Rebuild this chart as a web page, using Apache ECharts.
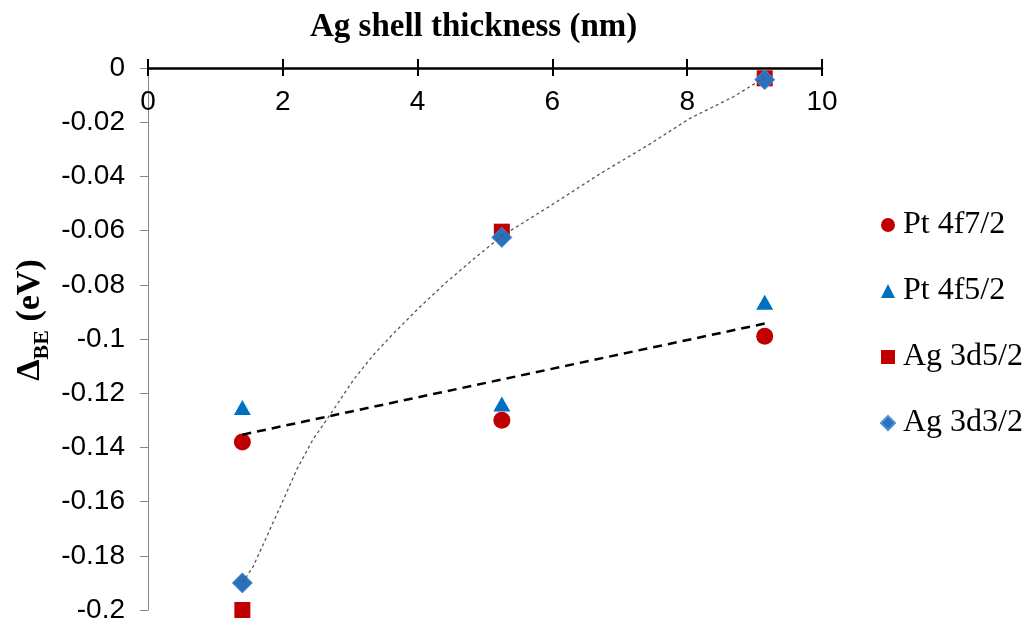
<!DOCTYPE html>
<html>
<head>
<meta charset="utf-8">
<script src="https://cdn.jsdelivr.net/npm/echarts@6/dist/echarts.min.js"></script>
<style>
html,body{margin:0;padding:0;background:#fff;}
#main{width:1030px;height:632px;}
</style>
</head>
<body>
<div id="main"></div>
<script>
// Data
const seriesNames = ['Pt 4f7/2', 'Pt 4f5/2', 'Ag 3d5/2', 'Ag 3d3/2'];
const thickness = [1.4, 5.25, 9.15];
const pt4f72 = [-0.138, -0.130, -0.099];
const pt4f52 = [-0.1253, -0.124, -0.0864];
const ag3d52 = [-0.2, -0.0604, -0.0038];
const ag3d32 = [-0.190, -0.0625, -0.0043];
// Linear trendline (dashed), endpoints
const linearTrend = [[1.4, -0.1353], [9.15, -0.0943]];
// Logarithmic trendline (dotted)
const logTrend = [
  [1.4, -0.190], [1.56, -0.184], [1.76, -0.173], [1.96, -0.162], [2.21, -0.148],
  [2.45, -0.137], [2.7, -0.128], [3.05, -0.115], [3.34, -0.106], [3.64, -0.098],
  [4.04, -0.088], [4.43, -0.079], [4.83, -0.0705], [5.25, -0.062], [5.96, -0.051],
  [6.71, -0.039], [7.45, -0.028], [8.04, -0.0186], [8.68, -0.0107], [9.15, -0.0035]
];
const xTicks = {min: 0, max: 10, interval: 2};
const yTicks = {min: -0.2, max: 0, interval: 0.02};

const red = '#C00000';
const blue = '#0070C0';
const diamondBlue = '#2A70BE';

function pairs(xs, ys) { return xs.map((x, i) => [x, ys[i]]); }

const chart = echarts.init(document.getElementById('main'), null, {renderer: 'canvas'});
const sansFont = '"Liberation Sans", Arial, sans-serif';
const serifFont = '"Liberation Serif", "Times New Roman", serif';

chart.setOption({
  backgroundColor: '#ffffff',
  animation: false,
  grid: {left: 148, right: 208, top: 68, bottom: 22, containLabel: false},
  legend: {
    orient: 'vertical',
    left: 875,
    top: 202,
    itemWidth: 14,
    itemHeight: 14,
    itemGap: 30,
    data: seriesNames,
    textStyle: {fontFamily: serifFont, fontSize: 32, color: '#000', lineHeight: 36, padding: [0, 0, 0, 3]}
  },
  xAxis: [{
    type: 'value',
    position: 'top',
    min: xTicks.min, max: xTicks.max, interval: xTicks.interval,
    axisLine: {show: true, onZero: false, lineStyle: {color: '#000', width: 2.5}},
    axisTick: {show: true, inside: false, length: 9, lineStyle: {color: '#000', width: 2}},
    axisLabel: {show: true, inside: true, margin: 20, fontFamily: sansFont, fontSize: 28, color: '#000'},
    splitLine: {show: false}
  }, {
    type: 'value',
    position: 'top',
    min: xTicks.min, max: xTicks.max, interval: xTicks.interval,
    axisLine: {show: false},
    axisTick: {show: true, inside: true, length: 8, lineStyle: {color: '#000', width: 2}},
    axisLabel: {show: false},
    splitLine: {show: false}
  }],
  yAxis: {
    type: 'value',
    min: yTicks.min, max: yTicks.max, interval: yTicks.interval,
    axisLine: {show: true, onZero: false, lineStyle: {color: '#868686', width: 1}},
    axisTick: {show: true, length: 8, lineStyle: {color: '#868686', width: 1}},
    axisLabel: {margin: 23, fontFamily: sansFont, fontSize: 28, color: '#000'},
    splitLine: {show: false}
  },
  graphic: [{
    type: 'text',
    left: 310, top: 11,
    style: {
      text: 'Ag shell thickness (nm)',
      fontFamily: serifFont, fontWeight: 'bold', fontSize: 33, fill: '#000'
    }
  }, {
    type: 'text',
    x: 28, y: 320,
    rotation: Math.PI / 2,
    style: {
      text: '{a|Δ}{b|BE}{a| (eV)}',
      align: 'center', verticalAlign: 'middle',
      rich: {
        a: {fontFamily: serifFont, fontWeight: 'bold', fontSize: 34, fill: '#000', lineHeight: 38, verticalAlign: 'bottom'},
        b: {fontFamily: serifFont, fontWeight: 'bold', fontSize: 22, fill: '#000', lineHeight: 38, verticalAlign: 'bottom', padding: [0, 0, -6, 0]}
      }
    }
  }],
  series: [{
    name: seriesNames[0], type: 'scatter', clip: false, z: 2,
    symbol: 'circle', symbolSize: 17,
    itemStyle: {color: red, opacity: 1},
    data: pairs(thickness, pt4f72)
  }, {
    name: seriesNames[1], type: 'scatter', clip: false, z: 2,
    symbol: 'triangle', symbolSize: [17, 15],
    itemStyle: {color: blue, opacity: 1},
    data: pairs(thickness, pt4f52)
  }, {
    name: seriesNames[2], type: 'scatter', clip: false, z: 2,
    symbol: 'rect', symbolSize: 16,
    itemStyle: {color: red, opacity: 1},
    data: pairs(thickness, ag3d52)
  }, {
    name: seriesNames[3], type: 'scatter', clip: false, z: 3,
    symbol: 'diamond', symbolSize: 20,
    itemStyle: {color: diamondBlue, opacity: 1, borderColor: '#4f8fd3', borderWidth: 1},
    data: pairs(thickness, ag3d32)
  }, {
    name: 'linear trend', type: 'line', z: 4,
    showSymbol: false, symbol: 'none',
    lineStyle: {color: '#000', width: 2.5, type: [9, 6]},
    data: linearTrend
  }, {
    name: 'log trend', type: 'line', z: 4,
    showSymbol: false, symbol: 'none', smooth: false,
    lineStyle: {color: '#555', width: 1.3, type: [3, 3]},
    data: logTrend
  }]
});
</script>
</body>
</html>
